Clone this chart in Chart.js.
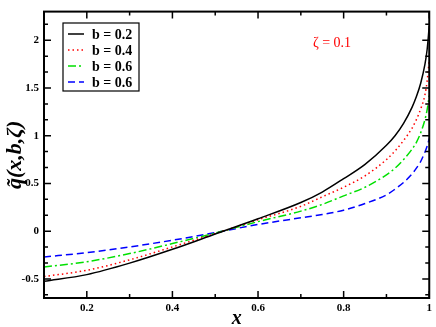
<!DOCTYPE html>
<html>
<head>
<meta charset="utf-8">
<script src="https://cdn.jsdelivr.net/npm/chart.js@4.4.1/dist/chart.umd.min.js"></script>
<style>
  html, body { margin: 0; padding: 0; background: #fff; }
  #wrap { width: 436px; height: 327px; }
</style>
</head>
<body>
<div id="wrap"><canvas id="c"></canvas></div>
<script>
// x grid used for all four curves
const xVals = [0.1, 0.2, 0.3, 0.4, 0.5, 0.6, 0.7, 0.75, 0.8, 0.85, 0.9, 0.92, 0.94, 0.96, 0.97, 0.98, 0.99, 0.995, 1.0];
const qB02  = [-0.525, -0.455, -0.335, -0.19, -0.03, 0.13, 0.30, 0.41, 0.55, 0.70, 0.90, 1.00, 1.13, 1.30, 1.41, 1.55, 1.75, 1.90, 2.15];
const qB04  = [-0.475, -0.41, -0.30, -0.165, -0.025, 0.12, 0.26, 0.36, 0.46, 0.58, 0.75, 0.84, 0.95, 1.08, 1.17, 1.28, 1.43, 1.57, 1.80];
const qB06  = [-0.375, -0.32, -0.235, -0.13, -0.02, 0.10, 0.21, 0.28, 0.37, 0.46, 0.59, 0.66, 0.75, 0.86, 0.93, 1.03, 1.17, 1.27, 1.42];
const qB06b = [-0.27, -0.225, -0.165, -0.095, -0.015, 0.07, 0.14, 0.175, 0.22, 0.29, 0.38, 0.44, 0.51, 0.60, 0.66, 0.73, 0.83, 0.89, 0.97];
const labels = ["b = 0.2", "b = 0.4", "b = 0.6", "b = 0.6"];
const xTicks = [0.2, 0.4, 0.6, 0.8, 1.0];
const yTicks = [-0.5, 0, 0.5, 1, 1.5, 2];

const SERIF = "'Liberation Serif', 'DejaVu Serif', serif";
const styles = [
  { color: "#000000", dash: [] },
  { color: "#ff0000", dash: [1.5, 3] },
  { color: "#00e000", dash: [8, 3, 2, 3] },
  { color: "#0000ff", dash: [7, 4] },
];
const series = [qB02, qB04, qB06, qB06b];

// xmgrace-like frame, inward ticks, legend box and the zeta note
const decorations = {
  id: "decorations",
  afterDatasetsDraw(chart) {
    const { ctx, chartArea: a, scales: { x, y } } = chart;
    ctx.save();
    ctx.strokeStyle = "#000";
    ctx.lineWidth = 1.5;
    const tick = (px, len, horiz) => {
      ctx.beginPath();
      if (horiz) { // x tick: bottom and top
        ctx.moveTo(px, a.bottom); ctx.lineTo(px, a.bottom - len);
        ctx.moveTo(px, a.top); ctx.lineTo(px, a.top + len);
      } else {
        ctx.moveTo(a.left, px); ctx.lineTo(a.left + len, px);
        ctx.moveTo(a.right, px); ctx.lineTo(a.right - len, px);
      }
      ctx.stroke();
    };
    for (let k = 2; k <= 10; k++) {
      tick(x.getPixelForValue(k / 10), k % 2 === 0 ? 7 : 4, true);
    }
    for (let k = -4; k <= 13; k++) {
      const v = k / 6;
      if (v <= y.min || v >= y.max) continue;
      tick(y.getPixelForValue(v), k % 3 === 0 ? 7 : 4, false);
    }
    ctx.lineWidth = 2;
    ctx.strokeRect(a.left, a.top, a.right - a.left, a.bottom - a.top);

    // legend
    const lx = 63, ly = 23, lw = 76, lh = 68;
    ctx.fillStyle = "#fff";
    ctx.fillRect(lx, ly, lw, lh);
    ctx.lineWidth = 1.2;
    ctx.strokeRect(lx, ly, lw, lh);
    ctx.font = "bold 14px " + SERIF;
    ctx.textBaseline = "middle";
    labels.forEach((t, i) => {
      const ry = 34 + i * 16;
      ctx.strokeStyle = styles[i].color;
      ctx.lineWidth = 1.5;
      ctx.setLineDash(styles[i].dash);
      ctx.beginPath(); ctx.moveTo(68, ry); ctx.lineTo(84, ry); ctx.stroke();
      ctx.setLineDash([]);
      ctx.fillStyle = "#000";
      ctx.fillText(t, 92, ry + 1);
    });

    ctx.fillStyle = "#ff0000";
    ctx.font = "14px " + SERIF;
    ctx.textAlign = "center";
    ctx.fillText("\u03b6 = 0.1", 332, 43);
    ctx.restore();
  }
};

new Chart(document.getElementById("c"), {
  type: "line",
  data: {
    datasets: series.map((s, i) => ({
      label: labels[i],
      data: xVals.map((xv, j) => ({ x: xv, y: s[j] })),
      borderColor: styles[i].color,
      borderDash: styles[i].dash,
      borderWidth: 1.5,
      pointRadius: 0,
      fill: false,
      cubicInterpolationMode: "monotone",
    })),
  },
  options: {
    responsive: true, maintainAspectRatio: false, animation: false,
    layout: { padding: { top: 3, right: 4, left: 0, bottom: 0 } },
    plugins: { legend: { display: false }, tooltip: { enabled: false } },
    scales: {
      x: {
        type: "linear", min: 0.1, max: 1,
        afterBuildTicks: s => { s.ticks = xTicks.map(v => ({ value: v })); },
        afterFit: s => { s.height = 29; },
        grid: { display: false, drawTicks: false },
        border: { display: false },
        ticks: {
          padding: 4, color: "#000", maxRotation: 0,
          font: { family: SERIF, size: 11, weight: "bold" },
          callback: v => String(v),
        },
        title: {
          display: true, text: "x", color: "#000",
          font: { family: SERIF, size: 20, weight: "bold", style: "italic" },
          padding: { top: 0, bottom: -4 },
        },
      },
      y: {
        type: "linear", min: -0.7, max: 2.3,
        afterBuildTicks: s => { s.ticks = yTicks.map(v => ({ value: v })); },
        afterFit: s => { s.width = 44; },
        grid: { display: false, drawTicks: false },
        border: { display: false },
        ticks: {
          padding: 5, color: "#000",
          font: { family: SERIF, size: 11, weight: "bold" },
          callback: v => String(v),
        },
        title: {
          display: true, text: "q\u0303(x,b,\u03b6)", color: "#000",
          font: { family: SERIF, size: 22, weight: "bold", style: "italic" },
          padding: { top: 2, bottom: 0 },
        },
      },
    },
  },
  plugins: [decorations],
});
</script>
</body>
</html>
